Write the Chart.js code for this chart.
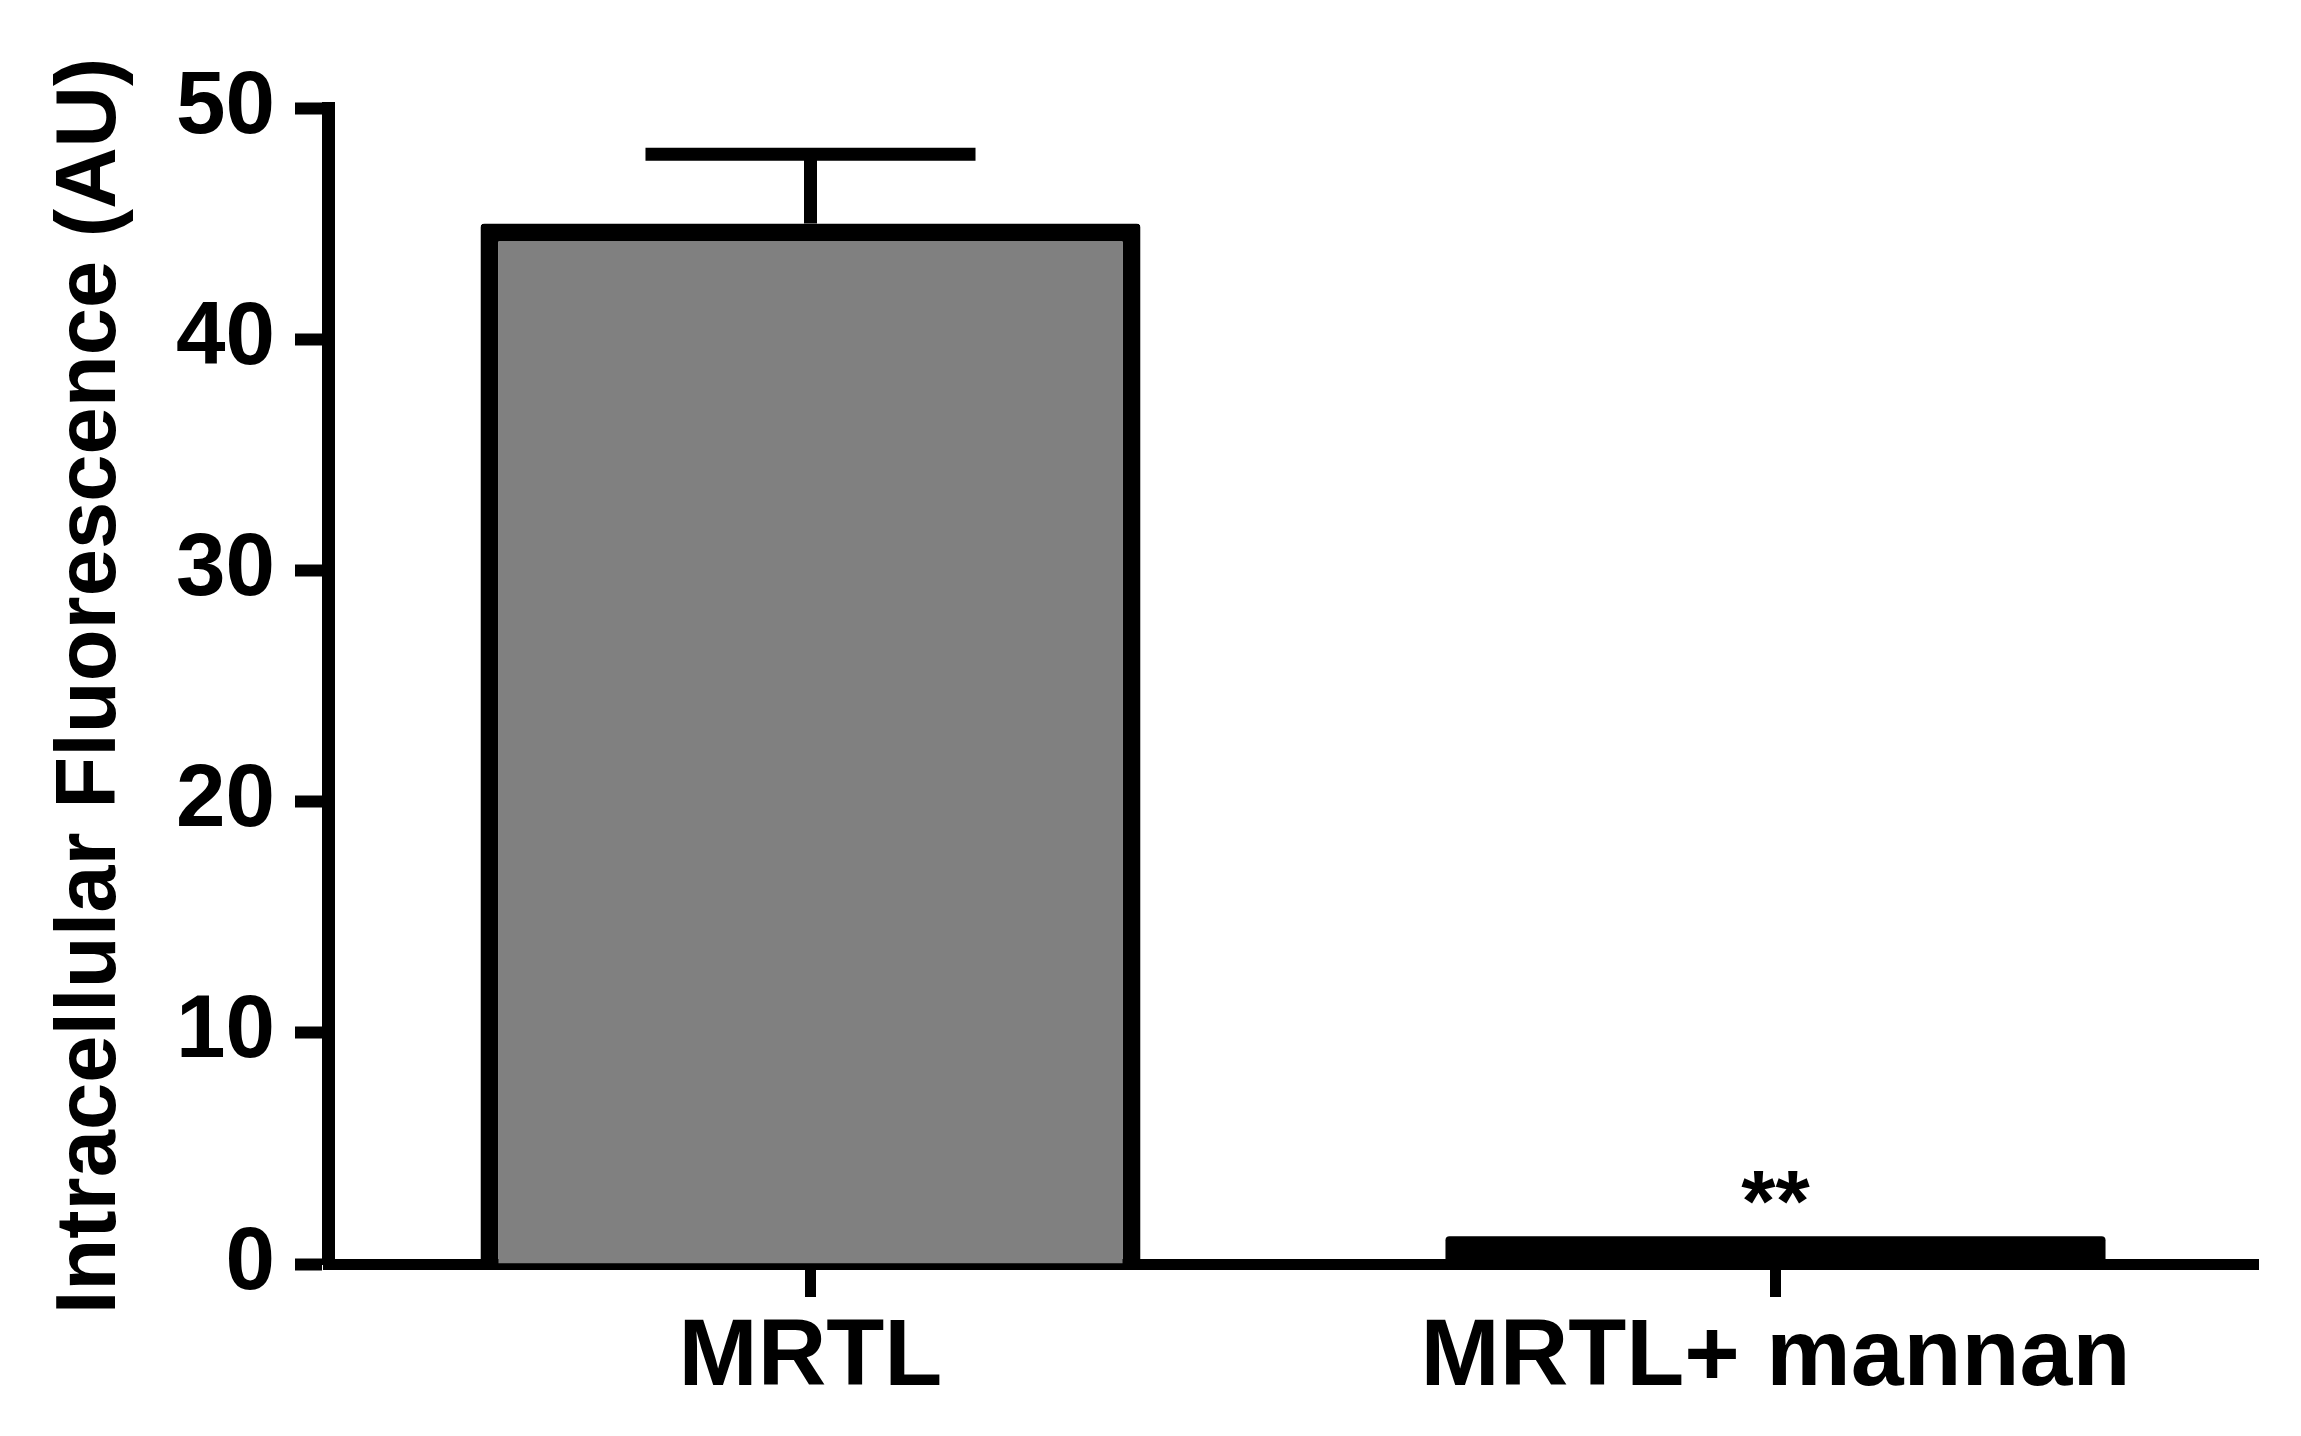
<!DOCTYPE html>
<html>
<head>
<meta charset="utf-8">
<script src="https://cdn.jsdelivr.net/npm/chart.js@4"></script>
<style>
    html, body { margin: 0; padding: 0; background: #fff; }
    canvas { display: block; }
</style>
</head>
<body>
<canvas id="chart" width="2301" height="1436"></canvas>
<script>
// Data
const categories = ['MRTL', 'MRTL+ mannan'];
const meanValues = [45, 1.2];
const errorValues = [3, 0];
const significance = ['', '**'];
const yTicks = [0, 10, 20, 30, 40, 50];

const fontFamily = '"Liberation Sans", Arial, Helvetica, sans-serif';

// Draws the upper error bars and the significance stars
const errorBarPlugin = {
    id: 'errorBars',
    afterDatasetsDraw(chart) {
        const ctx = chart.ctx;
        const meta = chart.getDatasetMeta(0);
        const yScale = chart.scales.y;
        ctx.save();
        meta.data.forEach(function(bar, i) {
            const x = bar.x;
            const top = yScale.getPixelForValue(meanValues[i]);
            if (errorValues[i] > 0) {
                const errTop = yScale.getPixelForValue(meanValues[i] + errorValues[i]);
                const capHalf = bar.width / 4;
                ctx.strokeStyle = '#000';
                ctx.lineWidth = 13;
                ctx.beginPath();
                ctx.moveTo(x, top);
                ctx.lineTo(x, errTop);
                ctx.moveTo(x - capHalf, errTop);
                ctx.lineTo(x + capHalf, errTop);
                ctx.stroke();
            }
            if (significance[i]) {
                const markTop = yScale.getPixelForValue(meanValues[i] + errorValues[i]);
                ctx.fillStyle = '#000';
                ctx.font = 'bold 88px ' + fontFamily;
                ctx.textAlign = 'center';
                ctx.textBaseline = 'alphabetic';
                ctx.fillText(significance[i], x, markTop - 5);
            }
        });
        ctx.restore();
    }
};

const ctx = document.getElementById('chart').getContext('2d');
new Chart(ctx, {
    type: 'bar',
    data: {
        labels: categories,
        datasets: [{
            data: meanValues,
            backgroundColor: ['#808080', '#000000'],
            borderColor: '#000',
            borderWidth: [18, 0],
            borderRadius: 4,
            barPercentage: 0.684,
            categoryPercentage: 1.0
        }]
    },
    options: {
        responsive: false,
        devicePixelRatio: 1,
        animation: false,
        layout: {
            padding: { left: 41, right: 43, top: 108, bottom: 0 }
        },
        plugins: {
            legend: { display: false },
            tooltip: { enabled: false }
        },
        scales: {
            x: {
                offset: true,
                grid: {
                    display: true,
                    offset: false,
                    drawOnChartArea: false,
                    drawTicks: true,
                    tickLength: 33,
                    tickWidth: 11,
                    tickColor: '#000'
                },
                border: { display: true, color: '#000', width: 11 },
                ticks: {
                    color: '#000',
                    padding: 5,
                    font: { family: fontFamily, size: 95, weight: 'bold' }
                },
                afterFit: function(scale) {
                    scale.height = 1436 - 1264;
                }
            },
            y: {
                min: 0,
                max: 50,
                afterBuildTicks: function(scale) {
                    scale.ticks = yTicks.map(v => ({ value: v }));
                },
                grid: {
                    display: true,
                    drawOnChartArea: false,
                    drawTicks: true,
                    tickLength: 33,
                    tickWidth: 12,
                    tickColor: '#000'
                },
                border: { display: true, color: '#000', width: 13 },
                ticks: {
                    color: '#000',
                    padding: 20,
                    font: { family: fontFamily, size: 89, weight: 'bold' }
                },
                title: {
                    display: true,
                    text: 'Intracellular Fluorescence (AU)',
                    color: '#000',
                    padding: 0,
                    font: { family: fontFamily, size: 85, weight: 'bold', lineHeight: 1.2 }
                },
                afterFit: function(scale) {
                    scale.width = 328 - 41;
                }
            }
        }
    },
    plugins: [errorBarPlugin]
});
</script>
</body>
</html>
